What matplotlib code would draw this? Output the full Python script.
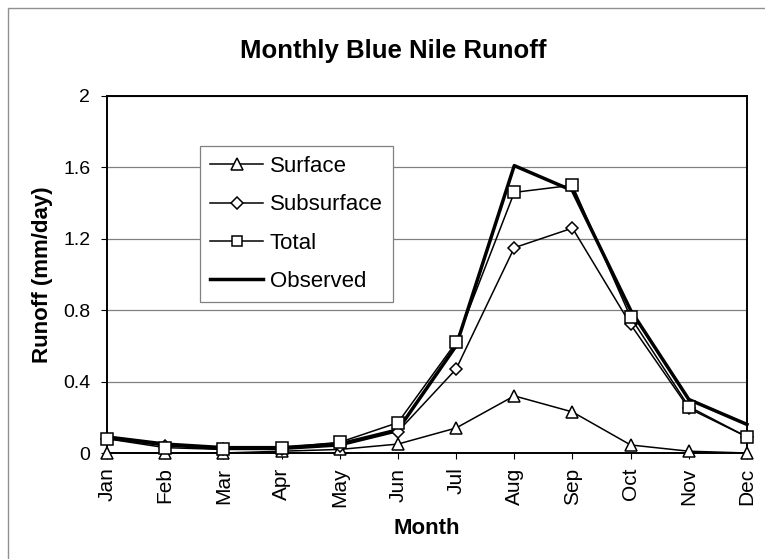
import numpy as np
import matplotlib.pyplot as plt
from matplotlib.patches import Rectangle

plt.rcParams['font.family'] = ['Liberation Sans', 'DejaVu Sans']

# data (mm/day)
months = ['Jan', 'Feb', 'Mar', 'Apr', 'May', 'Jun', 'Jul', 'Aug', 'Sep', 'Oct', 'Nov', 'Dec']
surface = [0.00, 0.00, 0.00, 0.01, 0.02, 0.05, 0.14, 0.32, 0.23, 0.045, 0.01, 0.00]
subsurface = [0.08, 0.04, 0.02, 0.02, 0.04, 0.12, 0.47, 1.15, 1.26, 0.72, 0.25, 0.09]
total = [0.08, 0.03, 0.02, 0.03, 0.06, 0.17, 0.62, 1.46, 1.50, 0.76, 0.26, 0.09]
observed = [0.09, 0.05, 0.03, 0.03, 0.05, 0.13, 0.60, 1.61, 1.47, 0.80, 0.30, 0.16]
yticks = [0, 0.4, 0.8, 1.2, 1.6, 2]
ylabels = ['0', '0.4', '0.8', '1.2', '1.6', '2']

W, H = 765, 559
fig = plt.figure(figsize=(W/100, H/100), dpi=100)
ax = fig.add_axes([107/W, 1-453/H, 640/W, 357/H])

# outer chart-area frame (only top and left edges fall inside the picture)
fig.patches.append(Rectangle((8/W, -0.05), 1.0, 1-8/H+0.05, transform=fig.transFigure,
                             fill=False, edgecolor='#909090', linewidth=1.0))

x = np.arange(len(months))
ax.plot(x, observed, color='black', lw=2.5, label='Observed', zorder=3, clip_on=False)
ax.plot(x, surface, color='black', lw=1.1, marker='^', ms=9, mfc='white', mec='black',
        mew=1.1, label='Surface', zorder=4, clip_on=False)
ax.plot(x, subsurface, color='black', lw=1.1, marker='D', ms=6.5, mfc='white', mec='black',
        mew=1.1, label='Subsurface', zorder=4, clip_on=False)
ax.plot(x, total, color='black', lw=1.1, marker='s', ms=8.5, mfc='white', mec='black',
        mew=1.1, label='Total', zorder=5, clip_on=False)

ax.set_xlim(0, len(months) - 1)
ax.set_ylim(0, 2)
ax.set_yticks(yticks)
ax.set_yticklabels(ylabels)
ax.set_xticks(x)
ax.set_xticklabels(months, rotation=90)
ax.tick_params(axis='both', direction='out', length=4, width=0.8)
ax.tick_params(axis='y', labelsize=14, pad=8)
ax.tick_params(axis='x', labelsize=15, pad=6.5)
ax.grid(axis='y', color='#808080', lw=0.9)
ax.set_axisbelow(True)
for s in ax.spines.values():
    s.set_linewidth(1.4)
    s.set_color('black')

fig.text(393/W, 1-51/H, 'Monthly Blue Nile Runoff', fontsize=18.5, fontweight='bold',
         ha='center', va='center')
ax.set_xlabel('Month', fontsize=16, fontweight='bold')
ax.set_ylabel('Runoff (mm/day)', fontsize=16, fontweight='bold')
ax.xaxis.set_label_coords(0.5, (453-518)/357)
ax.yaxis.set_label_coords((53-107)/640, 0.5)

h, l = ax.get_legend_handles_labels()
order = [1, 2, 3, 0]
leg = ax.legend([h[i] for i in order], [l[i] for i in order],
                loc='upper left', bbox_to_anchor=((200-107)/640, (453-146)/357),
                borderaxespad=0, fontsize=16, frameon=True, fancybox=False, framealpha=1,
                edgecolor='#808080', handlelength=2.4, handletextpad=0.3,
                labelspacing=0.78, borderpad=0.45, markerscale=0.9)
leg.get_frame().set_linewidth(0.9)

fig.savefig('out.png', dpi=100)
